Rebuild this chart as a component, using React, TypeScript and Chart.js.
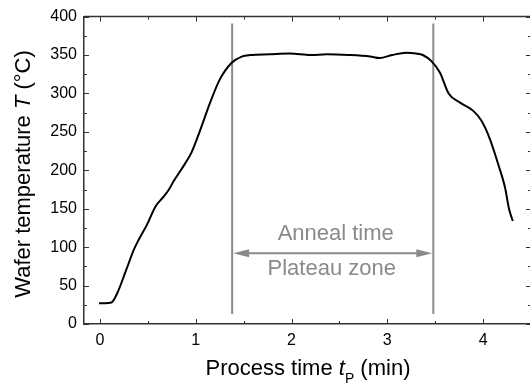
import React, { useEffect, useRef } from "react";
import { Chart, registerables } from "chart.js";

Chart.register(...registerables);

const TIME = [-0.01, 0.05, 0.12, 0.18, 0.27, 0.355, 0.41, 0.49, 0.58, 0.66, 0.72, 0.77, 0.89, 0.955, 1.04, 1.15, 1.25, 1.375, 1.48, 1.57, 1.77, 1.98, 2.2, 2.37, 2.6, 2.82, 2.92, 3.05, 3.2, 3.3, 3.37, 3.46, 3.55, 3.64, 3.76, 3.9, 3.98, 4.07, 4.16, 4.23, 4.27, 4.31];
const TEMP = [27, 27, 28, 40, 69, 97, 111, 129, 153, 165, 175, 186, 209, 223, 250, 288, 318, 340, 348, 350, 351, 352, 350, 351, 350, 348, 346, 350, 353, 352, 350, 342, 327, 300, 288, 277, 265, 241, 207, 177, 150, 134];

const X_TICKS = [0, 1, 2, 3, 4];
const X_MINOR = [0.5, 1.5, 2.5, 3.5, 4.5];
const Y_TICKS = [0, 50, 100, 150, 200, 250, 300, 350, 400];
const Y_MINOR = [25, 75, 125, 175, 225, 275, 325, 375];

const ZONE_START = 1.38;
const ZONE_END = 3.48;
const ZONE_LINE_LOW = 13;
const ZONE_LINE_HIGH = 391;
const ARROW_Y = 92;
const LABEL_TOP = "Anneal time";
const LABEL_TOP_Y = 117;
const LABEL_BOTTOM = "Plateau zone";
const LABEL_BOTTOM_Y = 72;

const FONT = "'Liberation Sans', Arial, Helvetica, sans-serif";
const GRAY = "#8a8a8a";
const AXIS = "#333333";

const annotationPlugin = {
  id: "zoneAnnot",
  beforeDatasetsDraw(chart: any) {
    const { ctx, scales } = chart;
    const x = scales.x, y = scales.y;
    const x1 = x.getPixelForValue(ZONE_START);
    const x2 = x.getPixelForValue(ZONE_END);
    const yLow = y.getPixelForValue(ZONE_LINE_LOW);
    const yHigh = y.getPixelForValue(ZONE_LINE_HIGH);
    ctx.save();
    ctx.strokeStyle = GRAY;
    ctx.fillStyle = GRAY;
    ctx.lineWidth = 2;
    for (const px of [x1, x2]) {
      ctx.beginPath();
      ctx.moveTo(px, yLow);
      ctx.lineTo(px, yHigh);
      ctx.stroke();
    }
    const ay = y.getPixelForValue(ARROW_Y);
    const head = 17, half = 4;
    ctx.beginPath();
    ctx.moveTo(x1 + head - 2, ay);
    ctx.lineTo(x2 - head + 2, ay);
    ctx.stroke();
    ctx.beginPath();
    ctx.moveTo(x1 + 1, ay);
    ctx.lineTo(x1 + head, ay - half);
    ctx.lineTo(x1 + head, ay + half);
    ctx.closePath();
    ctx.fill();
    ctx.beginPath();
    ctx.moveTo(x2 - 1, ay);
    ctx.lineTo(x2 - head, ay - half);
    ctx.lineTo(x2 - head, ay + half);
    ctx.closePath();
    ctx.fill();
    const cx = x.getPixelForValue((ZONE_START + ZONE_END) / 2);
    ctx.font = `22px ${FONT}`;
    ctx.textAlign = "center";
    ctx.textBaseline = "middle";
    ctx.fillText(LABEL_TOP, cx + 3, y.getPixelForValue(LABEL_TOP_Y));
    ctx.fillText(LABEL_BOTTOM, cx - 1, y.getPixelForValue(LABEL_BOTTOM_Y));
    ctx.restore();
  },
  afterDraw(chart: any) {
    const { ctx, scales, chartArea } = chart;
    const x = scales.x, y = scales.y;
    const { left, right, top, bottom } = chartArea;
    ctx.save();
    ctx.strokeStyle = AXIS;
    ctx.lineWidth = 1.5;
    ctx.beginPath();
    ctx.moveTo(left, top);
    ctx.lineTo(right, top);
    ctx.moveTo(right, top);
    ctx.lineTo(right, bottom);
    ctx.stroke();
    ctx.lineWidth = 1;
    const vTick = (v: number, len: number) => {
      const px = Math.round(x.getPixelForValue(v)) + 0.5;
      ctx.beginPath();
      ctx.moveTo(px, bottom);
      ctx.lineTo(px, bottom - len);
      ctx.moveTo(px, top);
      ctx.lineTo(px, top + len);
      ctx.stroke();
    };
    const hTick = (v: number, len: number) => {
      const py = Math.round(y.getPixelForValue(v)) + 0.5;
      ctx.beginPath();
      ctx.moveTo(left, py);
      ctx.lineTo(left + len, py);
      ctx.moveTo(right, py);
      ctx.lineTo(right - len, py);
      ctx.stroke();
    };
    X_TICKS.forEach((v) => vTick(v, 5));
    X_MINOR.forEach((v) => vTick(v, 3));
    Y_TICKS.forEach((v) => hTick(v, 5));
    Y_MINOR.forEach((v) => hTick(v, 3));

    ctx.fillStyle = "#000";
    ctx.textBaseline = "alphabetic";
    ctx.textAlign = "left";
    const segsX: [string, string, number][] = [
      ["Process time ", `22px ${FONT}`, 0],
      ["t", `italic 22px ${FONT}`, 0],
      ["P", `14px ${FONT}`, 8],
      [" (min)", `22px ${FONT}`, 0],
    ];
    let w = 0;
    for (const [t, f] of segsX) { ctx.font = f; w += ctx.measureText(t).width; }
    let sx = 308 - w / 2;
    for (const [t, f, dy] of segsX) {
      ctx.font = f;
      ctx.fillText(t, sx, 375 + dy);
      sx += ctx.measureText(t).width;
    }
    const segsY: [string, string][] = [
      ["Wafer temperature ", `22px ${FONT}`],
      ["T", `italic 22px ${FONT}`],
      [" (°C)", `22px ${FONT}`],
    ];
    w = 0;
    for (const [t, f] of segsY) { ctx.font = f; w += ctx.measureText(t).width; }
    ctx.translate(30, 174);
    ctx.rotate(-Math.PI / 2);
    let sy = -w / 2;
    for (const [t, f] of segsY) {
      ctx.font = f;
      ctx.fillText(t, sy, 0);
      sy += ctx.measureText(t).width;
    }
    ctx.restore();
  },
};

export default function App() {
  const ref = useRef<HTMLCanvasElement | null>(null);
  useEffect(() => {
    if (!ref.current) return;
    const chart = new Chart(ref.current, {
      type: "line",
      data: {
        datasets: [
          {
            data: TIME.map((t, i) => ({ x: t, y: TEMP[i] })),
            borderColor: "#000",
            borderWidth: 2,
            pointRadius: 0,
            cubicInterpolationMode: "monotone",
            fill: false,
          },
        ],
      },
      options: {
        animation: false,
        responsive: false,
        maintainAspectRatio: false,
        layout: { padding: { left: 0, top: 13, right: 1, bottom: 0 } },
        plugins: { legend: { display: false }, tooltip: { enabled: false } },
        scales: {
          x: {
            type: "linear",
            min: -1 / 6,
            max: 4.5,
            afterBuildTicks: (s: any) => { s.ticks = X_TICKS.map((v) => ({ value: v })); },
            afterFit: (s: any) => { s.height = 61; },
            grid: { display: false, drawTicks: false },
            border: { display: true, color: AXIS, width: 1.5 },
            ticks: { color: "#000", font: { family: FONT, size: 16 }, padding: 7, maxRotation: 0 },
          },
          y: {
            type: "linear",
            min: 0,
            max: 400,
            afterBuildTicks: (s: any) => { s.ticks = Y_TICKS.map((v) => ({ value: v })); },
            afterFit: (s: any) => { s.width = 84; },
            grid: { display: false, drawTicks: false },
            border: { display: true, color: AXIS, width: 1.5 },
            ticks: { color: "#000", font: { family: FONT, size: 16 }, padding: 7 },
          },
        },
      },
      plugins: [annotationPlugin],
    });
    return () => chart.destroy();
  }, []);
  return (
    <div style={{ position: "fixed", left: 0, top: 0, width: 530, height: 385, overflow: "hidden", background: "#fff" }}>
      <canvas ref={ref} width={532} height={385} style={{ width: 532, height: 385, display: "block" }} />
    </div>
  );
}
